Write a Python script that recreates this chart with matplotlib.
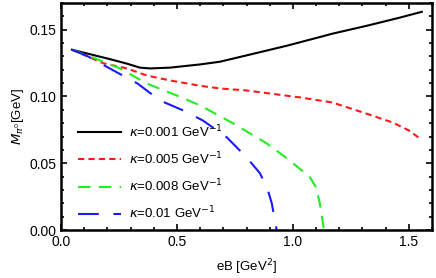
import matplotlib
matplotlib.use('Agg')
import matplotlib.pyplot as plt
from matplotlib.ticker import MultipleLocator, FormatStrFormatter

# curve points (eB in GeV^2, M in GeV)
eB_k001 = [0.047, 0.21, 0.284, 0.34, 0.384, 0.47, 0.60, 0.685, 0.83, 0.974, 1.116, 1.17, 1.32, 1.46, 1.556]
M_k001 = [0.135, 0.128, 0.1246, 0.1216, 0.121, 0.1216, 0.124, 0.126, 0.132, 0.138, 0.1445, 0.147, 0.153, 0.159, 0.1634]

eB_k005 = [0.047, 0.18, 0.284, 0.37, 0.47, 0.60, 0.685, 0.80, 1.03, 1.17, 1.32, 1.43, 1.50, 1.547]
M_k005 = [0.135, 0.125, 0.121, 0.1157, 0.112, 0.108, 0.106, 0.1045, 0.0993, 0.0955, 0.087, 0.0805, 0.0746, 0.0686]

eB_k008 = [0.047, 0.14, 0.254, 0.37, 0.50, 0.60, 0.743, 0.886, 0.987, 1.073, 1.10, 1.116, 1.134]
M_k008 = [0.135, 0.129, 0.121, 0.1097, 0.1007, 0.0933, 0.0798, 0.065, 0.052, 0.0396, 0.032, 0.020, 0.0]

eB_k01 = [0.047, 0.11, 0.21, 0.33, 0.427, 0.526, 0.612, 0.715, 0.80, 0.858, 0.892, 0.909, 0.93]
M_k01 = [0.135, 0.1306, 0.121, 0.1097, 0.097, 0.0896, 0.082, 0.0694, 0.0545, 0.0425, 0.030, 0.020, 0.0]

labels = [r'$\kappa$=0.001 GeV$^{-1}$', r'$\kappa$=0.005 GeV$^{-1}$',
          r'$\kappa$=0.008 GeV$^{-1}$', r'$\kappa$=0.01 GeV$^{-1}$']

plt.rcParams['font.family'] = ['Liberation Sans', 'DejaVu Sans']
plt.rcParams['mathtext.fontset'] = 'dejavusans'

fig = plt.figure(figsize=(4.36, 2.78), dpi=100)
ax = fig.add_axes([61/436, 48/278, 371/436, 227/278])

ax.plot(eB_k001, M_k001, color='black', lw=1.5, label=labels[0])
ax.plot(eB_k005, M_k005, color='#ff1a1a', lw=1.5, dashes=(3, 2), label=labels[1])
ax.plot(eB_k008, M_k008, color='#22ee22', lw=1.5, dashes=(6, 4), label=labels[2])
ax.plot(eB_k01, M_k01, color='#1a1aff', lw=1.5, dashes=(10, 7), label=labels[3])

ax.set_xlim(0, 1.6)
ax.set_ylim(0, 0.17)
ax.xaxis.set_major_locator(MultipleLocator(0.5))
ax.xaxis.set_minor_locator(MultipleLocator(0.1))
ax.yaxis.set_major_locator(MultipleLocator(0.05))
ax.yaxis.set_minor_locator(MultipleLocator(0.01))
ax.xaxis.set_major_formatter(FormatStrFormatter('%.1f'))
ax.yaxis.set_major_formatter(FormatStrFormatter('%.2f'))
ax.tick_params(which='both', direction='in', top=True, right=True, labelsize=10, width=1.2)
ax.tick_params(which='major', length=4)
ax.tick_params(which='minor', length=2.5)
for s in ax.spines.values():
    s.set_linewidth(1.8)

ax.set_xlabel(r'eB [GeV$^2$]', fontsize=9.5, labelpad=6)
ax.set_ylabel(r'$M_{\pi^0}$[GeV]', fontsize=9.5, labelpad=2)

ax.legend(loc='lower left', bbox_to_anchor=(0.015, -0.014), frameon=False, fontsize=9.5,
          handlelength=3.2, handletextpad=0.6, labelspacing=0.8)

fig.savefig('out.png', dpi=100)
